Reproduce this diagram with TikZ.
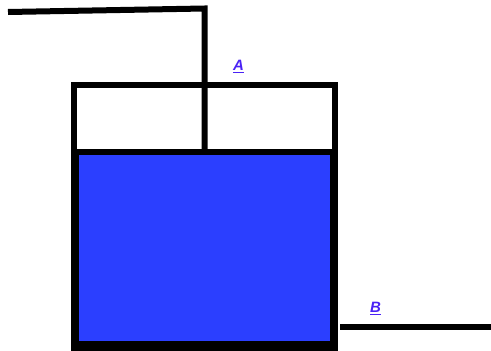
\documentclass[tikz,border=0pt]{standalone}
\usepackage{fontspec}
\setmainfont{Liberation Sans}
\definecolor{tankblue}{HTML}{2B3FFF}
\definecolor{labelblue}{HTML}{4A22F5}
\newcommand\ulbl[1]{\setbox0=\hbox{#1}\rlap{\copy0}\rule[-3pt]{\wd0}{1.4pt}}
\tikzset{
  x=1pt,y=-1pt,
  pipe/.style={line width=6pt,black,line join=miter},
  wall/.style={line width=6.5pt,black,line join=miter},
  lbl/.style={text=labelblue,font=\fontsize{15}{15}\selectfont\bfseries\itshape,inner sep=0pt,anchor=center}
}
\begin{document}
\begin{tikzpicture}
\useasboundingbox (0,0) rectangle (491,351);
\fill[tankblue] (77,152) rectangle (333,344);
\draw[wall] (74,351) -- (74,85) -- (335,85) -- (335,351);
\draw[wall] (74,152) -- (335,152);
\fill[black] (71,341) rectangle (338,351);
\fill[black] (74,152) rectangle (79,345);
\fill[black] (330,152) rectangle (336,345);
\coordinate (inL) at (8,12);
\coordinate (inC) at (204.5,8.5);
\coordinate (pist) at (204.5,152);
\coordinate (outL) at (340,326.5);
\coordinate (outR) at (491,326.5);
\draw[pipe] (inL) -- (inC) -- (pist);
\draw[pipe] (outL) -- (outR);
\node[lbl] (A) at (238.5,66.5) {\ulbl{A}};
\node[lbl] (B) at (375.5,308.5) {\ulbl{B}};
\end{tikzpicture}
\end{document}
